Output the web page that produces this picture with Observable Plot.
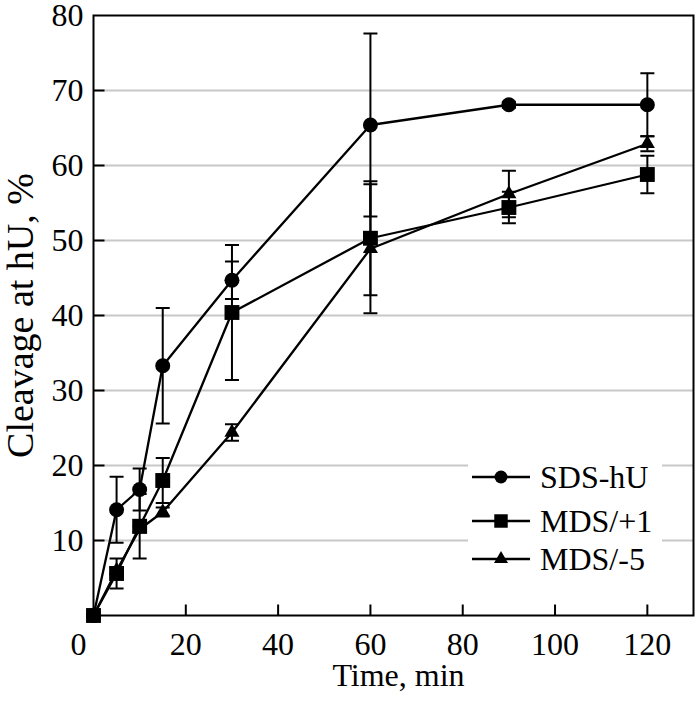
<!DOCTYPE html>
<html><head><meta charset="utf-8">
<script src="https://cdn.jsdelivr.net/npm/d3@7"></script>
<script src="https://cdn.jsdelivr.net/npm/@observablehq/plot@0.6"></script>
<style>
body{margin:0;background:#fff;}
#wrap{position:relative;width:700px;height:706px;}
#wrap svg, #wrap text{font-family:"Liberation Serif", "Times New Roman", serif !important;font-variant:normal !important;}
#legend{position:absolute;left:468px;top:456px;width:194px;height:124px;background:#fff;}
</style></head><body><div id="wrap"></div>
<script>
const times = [0, 5, 10, 15, 30, 60, 90, 120];
const sdsHU = [0, 14.1, 16.8, 33.3, 44.7, 65.4, 68.1, 68.1];
const sdsHUErr = [0, 4.4, 2.8, 7.7, 2.5, 12.2, 0.4, 4.2];
const mdsP1 = [0, 5.6, 11.9, 18.0, 40.4, 50.3, 54.4, 58.8];
const mdsP1Err = [0, 2.0, 4.3, 3.0, 9.0, 7.6, 2.1, 2.5];
const mdsM5 = [0, 6.0, 11.5, 13.8, 24.4, 48.9, 56.2, 62.9];
const mdsM5Err = [0, 0.4, 0.4, 0.6, 1.1, 8.6, 3.1, 1.0];
const seriesNames = ["SDS-hU", "MDS/+1", "MDS/-5"];
const xTickVals = [0, 20, 40, 60, 80, 100, 120];
const yTickVals = [10, 20, 30, 40, 50, 60, 70, 80];
const xTitle = "Time, min";
const yTitle = "Cleavage at hU, %";

const series = [
  {name: seriesNames[0], symbol: "circle", r: 7.5, values: sdsHU, err: sdsHUErr},
  {name: seriesNames[2], symbol: "triangle", r: 5.6, values: mdsM5, err: mdsM5Err},
  {name: seriesNames[1], symbol: "square", r: 8.4, values: mdsP1, err: mdsP1Err}
];
const rowsOf = s => times.map((t, i) => ({series: s.name, t, v: s.values[i], e: s.err[i]}));
const allRows = series.flatMap(rowsOf);
const errRows = allRows.filter(d => d.e > 0);

const capSym = {draw(ctx) { ctx.moveTo(-7, 0); ctx.lineTo(7, 0); }};
const yTickSym = {draw(ctx) { ctx.moveTo(0, 0); ctx.lineTo(11, 0); }};
const xTickSym = {draw(ctx) { ctx.moveTo(0, 0); ctx.lineTo(0, -11); }};
const FONT = "Liberation Serif";

const marks = [
  Plot.ruleY(yTickVals.slice(0, -1), {stroke: "#c8c8c8", strokeWidth: 2}),
  Plot.dot(yTickVals.slice(0, -1), {y: d => d, frameAnchor: "left", symbol: yTickSym, stroke: "black", fill: "none", strokeWidth: 2}),
  Plot.dot(xTickVals.slice(1), {x: d => d, frameAnchor: "bottom", symbol: xTickSym, stroke: "black", fill: "none", strokeWidth: 2}),
  Plot.axisY({ticks: yTickVals, tickSize: 0, tickPadding: 10, label: null, fontSize: 32, fontFamily: FONT}),
  Plot.axisX({ticks: xTickVals.slice(1), tickSize: 0, tickPadding: 17, label: null, fontSize: 32, fontFamily: FONT}),
  Plot.axisX({ticks: xTickVals.slice(0, 1), tickSize: 0, tickPadding: 17, label: null, fontSize: 32, fontFamily: FONT, dx: -15}),
  Plot.text([yTitle], {text: d => d, frameAnchor: "left", textAnchor: "middle", lineAnchor: "middle", rotate: -90, dx: -73, fontSize: 38, fontFamily: FONT}),
  Plot.text([xTitle], {text: d => d, frameAnchor: "bottom", textAnchor: "middle", lineAnchor: "middle", dx: 5, dy: 60, fontSize: 32, fontFamily: FONT}),
  Plot.ruleX(errRows, {x: "t", y1: d => d.v - d.e, y2: d => d.v + d.e, stroke: "black", strokeWidth: 2}),
  Plot.dot(errRows, {x: "t", y: d => d.v + d.e, symbol: capSym, stroke: "black", fill: "none", strokeWidth: 2}),
  Plot.dot(errRows, {x: "t", y: d => d.v - d.e, symbol: capSym, stroke: "black", fill: "none", strokeWidth: 2})
];
for (const s of series) {
  marks.push(Plot.line(rowsOf(s), {x: "t", y: "v", stroke: "black", strokeWidth: 2.3}));
}
for (const s of series) {
  marks.push(Plot.dot(rowsOf(s), {x: "t", y: "v", symbol: s.symbol, r: s.r, fill: "black", stroke: "none"}));
}
marks.push(Plot.frame({stroke: "black", strokeWidth: 2}));

const chart = Plot.plot({
  width: 700, height: 706,
  marginLeft: 93, marginRight: 7, marginTop: 15, marginBottom: 91,
  style: {fontFamily: FONT, fontSize: "32px", color: "black", background: "white"},
  x: {domain: [0, 130]},
  y: {domain: [0, 80]},
  marks
});
const wrap = document.getElementById("wrap");
wrap.appendChild(chart);

// legend
const legendOrder = [series[0], series[2], series[1]];
const rowY = [21, 65, 103];
const NS = "http://www.w3.org/2000/svg";
const lg = document.createElement("div");
lg.id = "legend";
const lsvg = document.createElementNS(NS, "svg");
lsvg.setAttribute("width", 194); lsvg.setAttribute("height", 124);
legendOrder.forEach((s, i) => {
  const y = rowY[i];
  const line = document.createElementNS(NS, "line");
  line.setAttribute("x1", 4); line.setAttribute("x2", 62);
  line.setAttribute("y1", y); line.setAttribute("y2", y);
  line.setAttribute("stroke", "black"); line.setAttribute("stroke-width", 2.3);
  lsvg.appendChild(line);
  const sym = {circle: d3.symbolCircle, square: d3.symbolSquare, triangle: d3.symbolTriangle}[s.symbol];
  const p = document.createElementNS(NS, "path");
  const rr = s.symbol === "circle" ? 6.5 : s.symbol === "square" ? 7.6 : 5.2;
  p.setAttribute("d", d3.symbol(sym, Math.PI * rr * rr)());
  p.setAttribute("transform", `translate(33,${y})`);
  lsvg.appendChild(p);
  const t = document.createElementNS(NS, "text");
  t.setAttribute("x", 72); t.setAttribute("y", y + 11);
  t.setAttribute("font-size", 32);
  t.textContent = s.name;
  lsvg.appendChild(t);
});
lg.appendChild(lsvg);
wrap.appendChild(lg);
</script></body></html>
